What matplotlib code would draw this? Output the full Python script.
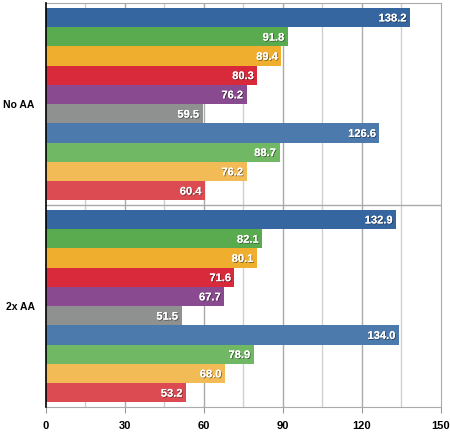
import matplotlib
matplotlib.use("Agg")
import matplotlib.pyplot as plt
import matplotlib.patheffects as pe
import numpy as np

groups = ["No AA", "2x AA"]
no_aa = [138.2, 91.8, 89.4, 80.3, 76.2, 59.5, 126.6, 88.7, 76.2, 60.4]
aa_2x = [132.9, 82.1, 80.1, 71.6, 67.7, 51.5, 134.0, 78.9, 68.0, 53.2]
bar_colors = ["#3566a0", "#5aab4f", "#f0ae2e", "#d82a3a", "#8a4a8f", "#8f9190",
              "#4d7aad", "#71b865", "#f3bb55", "#dc4a52"]
xticks = [0, 30, 60, 90, 120, 150]

plt.rcParams['font.family'] = ['Liberation Sans', 'DejaVu Sans']

fig = plt.figure(figsize=(4.5, 4.34), dpi=100)
ax = fig.add_axes([0.102, 0.062, 0.878, 0.931])

group_h = 10.5
pad = 0.25
for g, vals in enumerate([no_aa, aa_2x]):
    for i, v in enumerate(vals):
        y = g * group_h + pad + i + 0.5
        ax.barh(y, v, height=1.0, color=bar_colors[i], zorder=3)
        ax.text(v - 1.3, y + 0.05, "%.1f" % v, color="white", fontsize=8,
                fontweight="bold", ha="right", va="center", zorder=4,
                path_effects=[pe.withSimplePatchShadow(offset=(0.6, -0.6), shadow_rgbFace="black", alpha=0.5),
                              pe.Normal()])

ax.set_xlim(0, 150)
ax.set_ylim(2 * group_h, 0)

# grid lines
for x in np.arange(15, 150, 15):
    major = x % 30 == 0
    ax.axvline(x, color="#aaaaaa" if major else "#d0d0d0", lw=1.0, zorder=1)
ax.axhline(group_h, color="#aaaaaa", lw=1.0, zorder=1)

ax.set_xticks(xticks)
ax.set_xticklabels([str(t) for t in xticks], fontweight="bold", fontsize=8)
ax.tick_params(axis="x", length=4, color="#999999", pad=6)

ax.set_yticks([group_h / 2, group_h * 1.5])
ax.set_yticklabels(groups, fontweight="bold", fontsize=7.5)
ax.tick_params(axis="y", length=0, pad=8)

for side in ["top", "right", "bottom"]:
    ax.spines[side].set_color("#aaaaaa")
ax.spines["left"].set_color("black")
ax.spines["left"].set_linewidth(1.2)
ax.spines["left"].set_zorder(5)

fig.savefig("out.png", dpi=100)
